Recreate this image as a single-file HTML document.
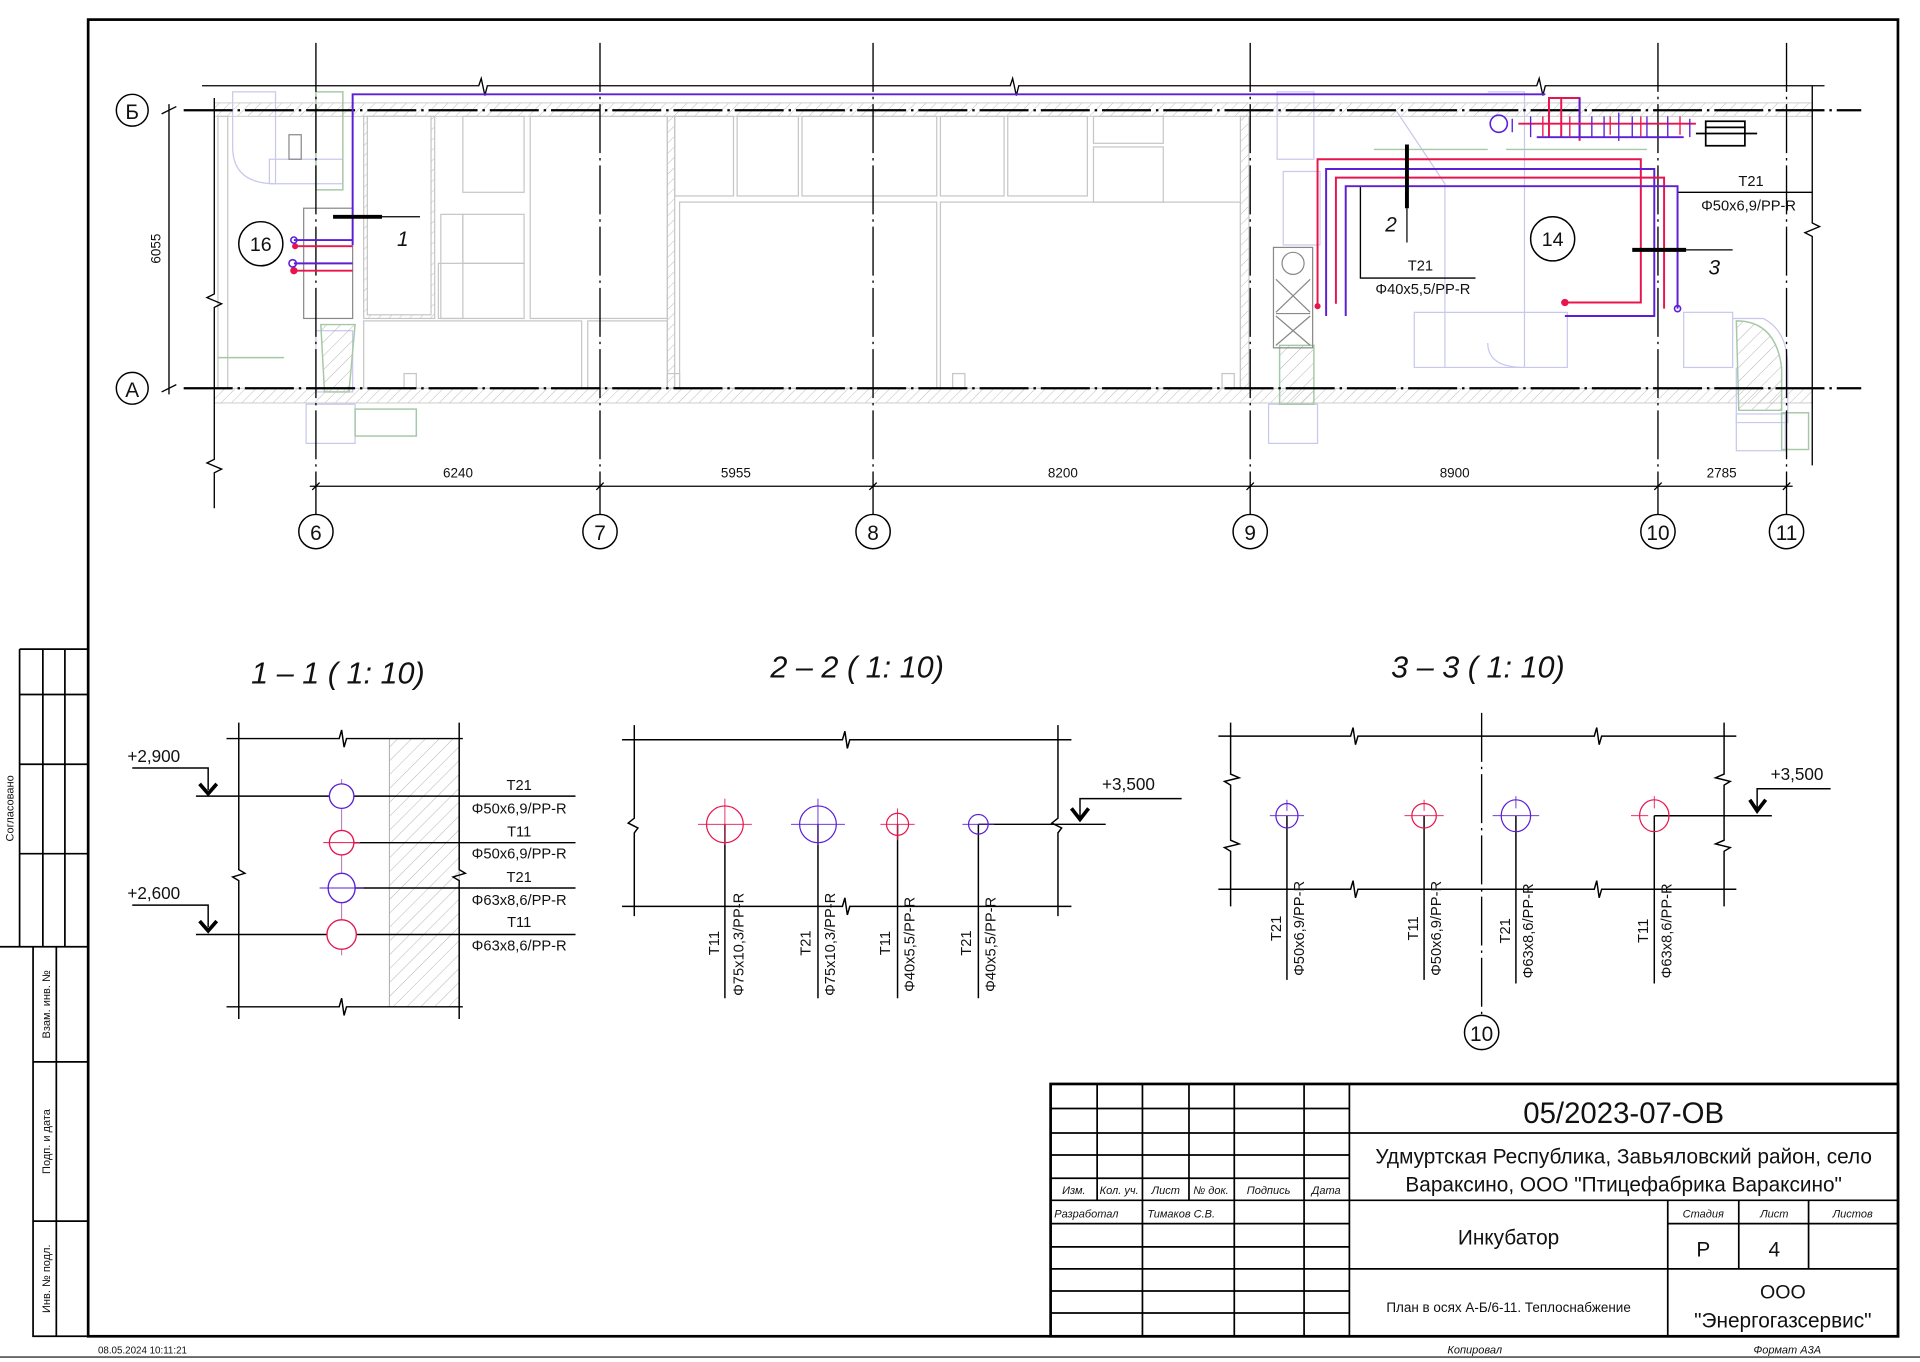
<!DOCTYPE html>
<html><head><meta charset="utf-8"><style>
html,body{margin:0;padding:0;background:#fff;width:1920px;height:1362px;overflow:hidden}
svg{display:block}
text{font-family:"Liberation Sans Narrow","Liberation Sans",sans-serif;fill:#111}
</style></head><body>
<svg width="1920" height="1362" viewBox="0 0 1568 1112" preserveAspectRatio="none" xmlns="http://www.w3.org/2000/svg">
<defs>
<pattern id="h" width="6" height="6" patternUnits="userSpaceOnUse" patternTransform="rotate(45)"><line x1="0" y1="0" x2="0" y2="6" stroke="#bbb" stroke-width="0.8"/></pattern>
<pattern id="h2" width="8" height="8" patternUnits="userSpaceOnUse" patternTransform="rotate(45)"><line x1="0" y1="0" x2="0" y2="8" stroke="#999" stroke-width="0.6"/></pattern>
</defs>
<rect width="1568" height="1112" fill="#fff"/>
<!-- frame -->
<rect x="72" y="16" width="1478" height="1075" fill="none" stroke="#000" stroke-width="2.2"/>
<line x1="0" y1="1108" x2="1568" y2="1108" stroke="#666" stroke-width="1.5"/>
<text x="80" y="1105" font-size="8">08.05.2024 10:11:21</text>
<text x="1182" y="1105" font-size="9" font-style="italic">Копировал</text>
<text x="1432" y="1105" font-size="9" font-style="italic">Формат А3А</text>
<!-- sidebar -->
<g stroke="#000" stroke-width="1.4" fill="none">
<path d="M16 530H72M16 567H72M16 624H72M16 697H72M0 773H72M16 530V773M35 530V773M53 530V773"/>
<path d="M27 773V1091H72M27 867H72M27 997H72M46 773V1091"/>
</g>
<text transform="translate(11,660) rotate(-90)" font-size="9" text-anchor="middle">Согласовано</text>
<text transform="translate(41,820) rotate(-90)" font-size="9" text-anchor="middle">Взам. инв. №</text>
<text transform="translate(41,932) rotate(-90)" font-size="9" text-anchor="middle">Подп. и дата</text>
<text transform="translate(41,1044) rotate(-90)" font-size="9" text-anchor="middle">Инв. № подл.</text>

<!-- ===== PLAN ===== -->
<!-- walls -->
<rect x="175" y="84" width="1305" height="11" fill="url(#h)" stroke="#ccc" stroke-width="0.8"/>
<rect x="175" y="317" width="1305" height="12" fill="url(#h)" stroke="#ccc" stroke-width="0.8"/>
<g fill="none" stroke="#c6c6c6" stroke-width="1">
<rect x="297" y="95" width="58" height="165" fill="url(#h)"/><rect x="300" y="95" width="52" height="162" fill="#fff"/>
<rect x="378" y="95" width="50" height="62"/><rect x="378" y="175" width="50" height="40"/><rect x="358" y="215" width="70" height="45"/><rect x="360" y="175" width="18" height="85"/>
<rect x="433" y="95" width="112" height="165"/>
<rect x="297" y="262" width="178" height="55"/><rect x="480" y="262" width="65" height="55"/>
<rect x="545" y="95" width="6" height="222" fill="url(#h)"/>
<rect x="551" y="95" width="48" height="65"/><rect x="602" y="95" width="50" height="65"/><rect x="655" y="95" width="110" height="65"/><rect x="768" y="95" width="52" height="65"/><rect x="823" y="95" width="65" height="65"/>
<rect x="555" y="165" width="210" height="152"/><rect x="768" y="165" width="245" height="152"/>
<rect x="893" y="120" width="57" height="45"/><rect x="893" y="95" width="57" height="22"/>
<rect x="1013" y="95" width="7" height="222" fill="url(#h)"/>
<rect x="178" y="95" width="8" height="222"/>
<rect x="330" y="305" width="10" height="12"/><rect x="545" y="305" width="10" height="12"/><rect x="778" y="305" width="10" height="12"/><rect x="998" y="305" width="10" height="12"/>
</g>
<!-- ventilation (light blue) -->
<g fill="none" stroke="#c8c8ec" stroke-width="1">
<path d="M190 75H225V150Q190 150 190 120Z"/><rect x="220" y="130" width="60" height="20"/><rect x="258" y="270" width="30" height="50"/><rect x="250" y="330" width="40" height="32"/>
<rect x="1043" y="75" width="30" height="55"/><rect x="1048" y="140" width="30" height="60"/><rect x="1036" y="330" width="40" height="32"/>
<path d="M1155 255H1280V300H1155Z"/><path d="M1140 90L1180 150V300"/>
<path d="M1215 75H1245V300Q1215 300 1215 280"/>
<rect x="1375" y="255" width="40" height="45"/><path d="M1415 260H1440Q1460 270 1460 300V345H1418V300"/>
<rect x="1418" y="338" width="40" height="30"/>
</g>
<g fill="none" stroke="#a6c8a6" stroke-width="1.2">
<path d="M262 265L290 265 285 320H265Z" fill="url(#h2)"/>
<path d="M1045 282H1073V330H1045Z" fill="url(#h2)"/>
<path d="M1418 262Q1450 262 1455 300V335H1420Z" fill="url(#h2)"/>
<rect x="290" y="334" width="50" height="22"/><rect x="1455" y="337" width="22" height="30"/>
<rect x="258" y="75" width="22" height="80"/><path d="M178 292H232"/><path d="M1122 122H1215M1230 122H1345"/>
</g>
<g fill="none" stroke="#888" stroke-width="1">
<rect x="1040" y="202" width="32" height="82"/><circle cx="1056" cy="215" r="9"/>
<path d="M1042 228L1070 255M1070 228L1042 255M1042 258L1070 282M1070 258L1042 282M1042 256H1070"/>
<rect x="236" y="110" width="10" height="20"/><rect x="248" y="170" width="40" height="90"/>
</g>
<!-- axes -->
<g stroke="#000" stroke-width="1.1" stroke-dasharray="40,4,2,4">
<path d="M258 35V420M490 35V420M713 35V420M1021 35V420M1354 35V420M1459 35V420"/>
</g>
<g stroke="#000" stroke-width="1.8" stroke-dasharray="40,4,2,4">
<path d="M150 90H1520M150 317H1520"/>
</g>
<g fill="#fff" stroke="#000" stroke-width="1.2">
<circle cx="258" cy="434" r="14"/><circle cx="490" cy="434" r="14"/><circle cx="713" cy="434" r="14"/><circle cx="1021" cy="434" r="14"/><circle cx="1354" cy="434" r="14"/><circle cx="1459" cy="434" r="14"/>
<circle cx="108" cy="90" r="13"/><circle cx="108" cy="317" r="13"/>
</g>
<g font-size="17" text-anchor="middle">
<text x="258" y="441">6</text><text x="490" y="441">7</text><text x="713" y="441">8</text><text x="1021" y="441">9</text><text x="1354" y="441">10</text><text x="1459" y="441">11</text>
<text x="108" y="97">Б</text><text x="108" y="324">А</text>
</g>
<!-- break lines -->
<g fill="none" stroke="#000" stroke-width="1.1">
<path d="M165 70H391L393 64 396 78 398 70H825L827 64 830 78 832 70H1255L1257 64 1260 78 1262 70H1490"/>
<path d="M175 80V240L169 243 181 248 175 251V375L169 378 181 383 175 386V415"/>
<path d="M1480 70V182L1486 185 1474 190 1480 193V380"/>
<path d="M138 85V322M132 93L144 87M132 320L144 314"/>
<path d="M253 397H1464"/>
<path d="M255 400L261 394M487 400L493 394M710 400L716 394M1018 400L1024 394M1351 400L1357 394M1456 400L1462 394"/>
<path d="M1111 152V227H1205M1370 157H1480"/>
</g>
<g font-size="11" text-anchor="middle">
<text x="374" y="390">6240</text><text x="601" y="390">5955</text><text x="868" y="390">8200</text><text x="1188" y="390">8900</text><text x="1406" y="390">2785</text>
<text transform="translate(131,203) rotate(-90)">6055</text>
</g>
<!-- pipes -->
<g fill="none" stroke-width="1.6">
<path d="M288 200V77H1262" stroke="#5a1fd6"/>
<path d="M240 196H288M240 215H288" stroke="#5a1fd6"/>
<path d="M243 201H288M241 221H288" stroke="#e8144e"/>
<path d="M1076 250V130H1340V247H1275" stroke="#e8144e"/>
<path d="M1083 258V138H1351V258H1278" stroke="#5a1fd6"/>
<path d="M1091 248V145H1359V252" stroke="#e8144e"/>
<path d="M1099 258V152H1370V252" stroke="#5a1fd6"/>
<path d="M1265 112V80H1290V115M1275 80V112" stroke="#e8144e"/>
<path d="M1255 112H1375M1290 80V112" stroke="#5a1fd6"/>
<path d="M1240 101H1385" stroke="#e8144e"/>
</g>
<g fill="#e8144e"><circle cx="241" cy="201" r="2.5"/><circle cx="240" cy="221" r="3"/><circle cx="1076" cy="250" r="2.5"/><circle cx="1278" cy="247" r="3"/></g>
<g fill="none" stroke="#5a1fd6" stroke-width="1.3"><circle cx="240" cy="196" r="2.5"/><circle cx="239" cy="215" r="3"/><circle cx="1224" cy="101" r="7"/><circle cx="1370" cy="252" r="2.5"/></g>
<g fill="none" stroke="#5a1fd6" stroke-width="1.1">
<path d="M1235 97V108M1250 95V112M1300 95V112M1310 95V112M1322 92V115M1333 95V112M1345 95V112M1362 95V112M1380 97V112"/>
</g>
<g fill="none" stroke="#e8144e" stroke-width="1.1"><path d="M1260 95V112M1282 95V112M1315 95V110M1340 95V112M1372 95V110"/></g>
<g fill="none" stroke="#000" stroke-width="1.4"><rect x="1393" y="99" width="32" height="20"/><path d="M1385 109H1435M1393 104H1425"/></g>
<!-- section marks -->
<g stroke="#000" fill="none">
<path d="M272 177H312M1149 118V170M1333 204H1377" stroke-width="3.2"/>
<path d="M312 177H343M1149 170V198M1377 204H1415" stroke-width="1"/>
</g>
<g font-size="17" font-style="italic" text-anchor="middle"><text x="329" y="201">1</text><text x="1136" y="189">2</text><text x="1400" y="224">3</text></g>
<g fill="#fff" stroke="#000" stroke-width="1.2"><circle cx="213" cy="199" r="18"/><circle cx="1268" cy="195" r="18"/></g>
<g font-size="16" text-anchor="middle"><text x="213" y="205">16</text><text x="1268" y="201">14</text></g>
<g font-size="12" text-anchor="middle">
<text x="1430" y="152">T21</text><text x="1428" y="172">Φ50x6,9/PP-R</text>
<text x="1160" y="221">T21</text><text x="1162" y="240">Φ40x5,5/PP-R</text>
</g>

<!-- ===== SECTIONS ===== -->
<g font-size="25" font-style="italic" text-anchor="middle">
<text x="276" y="558">1 – 1 ( 1: 10)</text><text x="700" y="553">2 – 2 ( 1: 10)</text><text x="1207" y="553">3 – 3 ( 1: 10)</text>
</g>
<!-- 1-1 -->
<rect x="318" y="603" width="57" height="219" fill="url(#h2)" stroke="#aaa" stroke-width="0.8"/>
<g fill="none" stroke="#000" stroke-width="1.2">
<path d="M195 590V710L200 713 190 716 195 719V832M375 590V710L380 713 370 716 375 719V832"/>
<path d="M185 603H277L279 596 281 610 283 603H378M185 822H277L279 815 281 829 283 822H378"/>
<path d="M160 650H470M287 688H470M287 725H470M160 763H470"/>
<path d="M108 627H170V645M108 739H170V757"/>
</g>
<g fill="none" stroke="#000" stroke-width="3"><path d="M163 640L170 648 177 640M163 752L170 760 177 752"/></g>
<line x1="279" y1="636" x2="279" y2="780" stroke="#b06fb0" stroke-width="0.8"/>
<g fill="#fff" stroke-width="1.1"><ellipse cx="279" cy="650" rx="10" ry="10" stroke="#5a1fd6"/><ellipse cx="279" cy="688" rx="10" ry="10" stroke="#e8144e"/><ellipse cx="279" cy="725" rx="11" ry="12" stroke="#5a1fd6"/><ellipse cx="279" cy="763" rx="12" ry="12" stroke="#e8144e"/></g>
<g stroke-width="0.8"><path d="M264 688H294" stroke="#e8144e"/><path d="M261 725H297" stroke="#5a1fd6"/></g>
<g font-size="12" text-anchor="middle">
<text x="424" y="645">T21</text><text x="424" y="664">Φ50x6,9/PP-R</text>
<text x="424" y="683">T11</text><text x="424" y="701">Φ50x6,9/PP-R</text>
<text x="424" y="720">T21</text><text x="424" y="739">Φ63x8,6/PP-R</text>
<text x="424" y="757">T11</text><text x="424" y="776">Φ63x8,6/PP-R</text>
</g>
<g font-size="14"><text x="104" y="622">+2,900</text><text x="104" y="734">+2,600</text></g>
<!-- 2-2 -->
<g fill="none" stroke="#000" stroke-width="1.2">
<path d="M518 592V668L513 672 521 676 518 680V748M864 592V668L859 672 867 676 864 680V748"/>
<path d="M508 604H688L690 597 692 611 694 604H875"/>
<path d="M508 740H688L690 733 692 747 694 740H875"/>
<path d="M592 673V815M668 673V815M733 673V815M799 673V815"/>
<path d="M799 673H903M965 652H882V668"/>
</g>
<path d="M875 660L882 669 889 660" fill="none" stroke="#000" stroke-width="3"/>
<g fill="none" stroke-width="1">
<circle cx="592" cy="673" r="15" stroke="#e8144e"/><path d="M570 673H614M592 652V690" stroke="#e8144e" stroke-width="0.7"/>
<circle cx="668" cy="673" r="15" stroke="#5a1fd6"/><path d="M646 673H690M668 652V690" stroke="#5a1fd6" stroke-width="0.7"/>
<circle cx="733" cy="673" r="9" stroke="#e8144e"/><path d="M719 673H747M733 660V686" stroke="#e8144e" stroke-width="0.7"/>
<circle cx="799" cy="673" r="8" stroke="#5a1fd6"/><path d="M786 673H812" stroke="#5a1fd6" stroke-width="0.7"/>
</g>
<g font-size="12" text-anchor="middle">
<text transform="translate(587,770) rotate(-90)">T11</text><text transform="translate(607,771) rotate(-90)">Φ75x10,3/PP-R</text>
<text transform="translate(662,770) rotate(-90)">T21</text><text transform="translate(682,771) rotate(-90)">Φ75x10,3/PP-R</text>
<text transform="translate(727,770) rotate(-90)">T11</text><text transform="translate(747,771) rotate(-90)">Φ40x5,5/PP-R</text>
<text transform="translate(793,770) rotate(-90)">T21</text><text transform="translate(813,771) rotate(-90)">Φ40x5,5/PP-R</text>
</g>
<text x="900" y="645" font-size="14">+3,500</text>
<!-- 3-3 -->
<g fill="none" stroke="#000" stroke-width="1.2">
<path d="M1005 590V632L1012 635 1000 638 1005 641V686L1012 689 1000 692 1005 695V740M1408 590V632L1401 635 1413 638 1408 641V686L1401 689 1413 692 1408 695V740"/>
<path d="M995 601H1103L1105 594 1107 608 1109 601H1302L1304 594 1306 608 1308 601H1418"/>
<path d="M995 726H1103L1105 719 1107 733 1109 726H1302L1304 719 1306 733 1308 726H1418"/>
<path d="M1051 666V800M1163 666V800M1238 666V803M1351 666V803"/>
<path d="M1351 666H1447M1495 644H1435V660"/>
</g>
<path d="M1429 653L1435 662 1442 653" fill="none" stroke="#000" stroke-width="3"/>
<line x1="1210" y1="582" x2="1210" y2="829" stroke="#000" stroke-width="1.1" stroke-dasharray="40,4,2,4"/>
<circle cx="1210" cy="843" r="14" fill="#fff" stroke="#000" stroke-width="1.2"/>
<text x="1210" y="850" font-size="17" text-anchor="middle">10</text>
<g fill="none" stroke-width="1">
<ellipse cx="1051" cy="666" rx="9" ry="10" stroke="#5a1fd6"/><path d="M1037 666H1065M1051 653V662" stroke="#5a1fd6" stroke-width="0.7"/>
<ellipse cx="1163" cy="666" rx="10" ry="10" stroke="#e8144e"/><path d="M1147 666H1179M1163 653V662" stroke="#e8144e" stroke-width="0.7"/>
<ellipse cx="1238" cy="666" rx="12" ry="13" stroke="#5a1fd6"/><path d="M1219 666H1257M1238 650V660" stroke="#5a1fd6" stroke-width="0.7"/>
<ellipse cx="1351" cy="666" rx="12" ry="13" stroke="#e8144e"/><path d="M1332 666H1346M1351 650V660" stroke="#e8144e" stroke-width="0.7"/>
</g>
<g font-size="12" text-anchor="middle">
<text transform="translate(1046,758) rotate(-90)">T21</text><text transform="translate(1065,758) rotate(-90)">Φ50x6,9/PP-R</text>
<text transform="translate(1158,758) rotate(-90)">T11</text><text transform="translate(1177,758) rotate(-90)">Φ50x6,9/PP-R</text>
<text transform="translate(1233,760) rotate(-90)">T21</text><text transform="translate(1252,760) rotate(-90)">Φ63x8,6/PP-R</text>
<text transform="translate(1346,760) rotate(-90)">T11</text><text transform="translate(1365,760) rotate(-90)">Φ63x8,6/PP-R</text>
</g>
<text x="1446" y="637" font-size="14">+3,500</text>

<!-- ===== TITLE BLOCK ===== -->
<rect x="858" y="885" width="692" height="206" fill="#fff" stroke="#000" stroke-width="2.2"/>
<g fill="none" stroke="#000" stroke-width="1.4">
<path d="M858 905H1102M858 925H1102M858 943H1102M858 962H1102M858 999H1102M858 1018H1102M858 1054H1102M858 1072H1102"/>
<path d="M858 980H1550M858 1036H1550M1102 925H1550M1362 999H1550"/>
<path d="M896 885V980M971 885V980M933 885V1091M1008 885V1091M1065 885V1091"/>
<path d="M1102 885V1091M1362 980V1091M1420 980V1036M1477 980V1036"/>
</g>
<text x="1326" y="917" font-size="24" text-anchor="middle">05/2023-07-ОВ</text>
<text x="1326" y="950" font-size="17" text-anchor="middle">Удмуртская Республика, Завьяловский район, село</text>
<text x="1326" y="973" font-size="17" text-anchor="middle">Вараксино, ООО "Птицефабрика Вараксино"</text>
<text x="1232" y="1016" font-size="17" text-anchor="middle">Инкубатор</text>
<text x="1232" y="1071" font-size="11" text-anchor="middle">План в осях А-Б/6-11. Теплоснабжение</text>
<text x="1456" y="1060" font-size="16" text-anchor="middle">ООО</text>
<text x="1456" y="1084" font-size="17" text-anchor="middle">"Энергогазсервис"</text>
<g font-size="9" font-style="italic" text-anchor="middle">
<text x="1391" y="994">Стадия</text><text x="1449" y="994">Лист</text><text x="1513" y="994">Листов</text>
<text x="877" y="975">Изм.</text><text x="914" y="975">Кол. уч.</text><text x="952" y="975">Лист</text><text x="989" y="975">№ док.</text><text x="1036" y="975">Подпись</text><text x="1083" y="975">Дата</text>
</g>
<g font-size="9" font-style="italic"><text x="861" y="994">Разработал</text><text x="937" y="994">Тимаков С.В.</text></g>
<text x="1391" y="1026" font-size="17" text-anchor="middle">Р</text>
<text x="1449" y="1026" font-size="17" text-anchor="middle">4</text>
</svg>
</body></html>
